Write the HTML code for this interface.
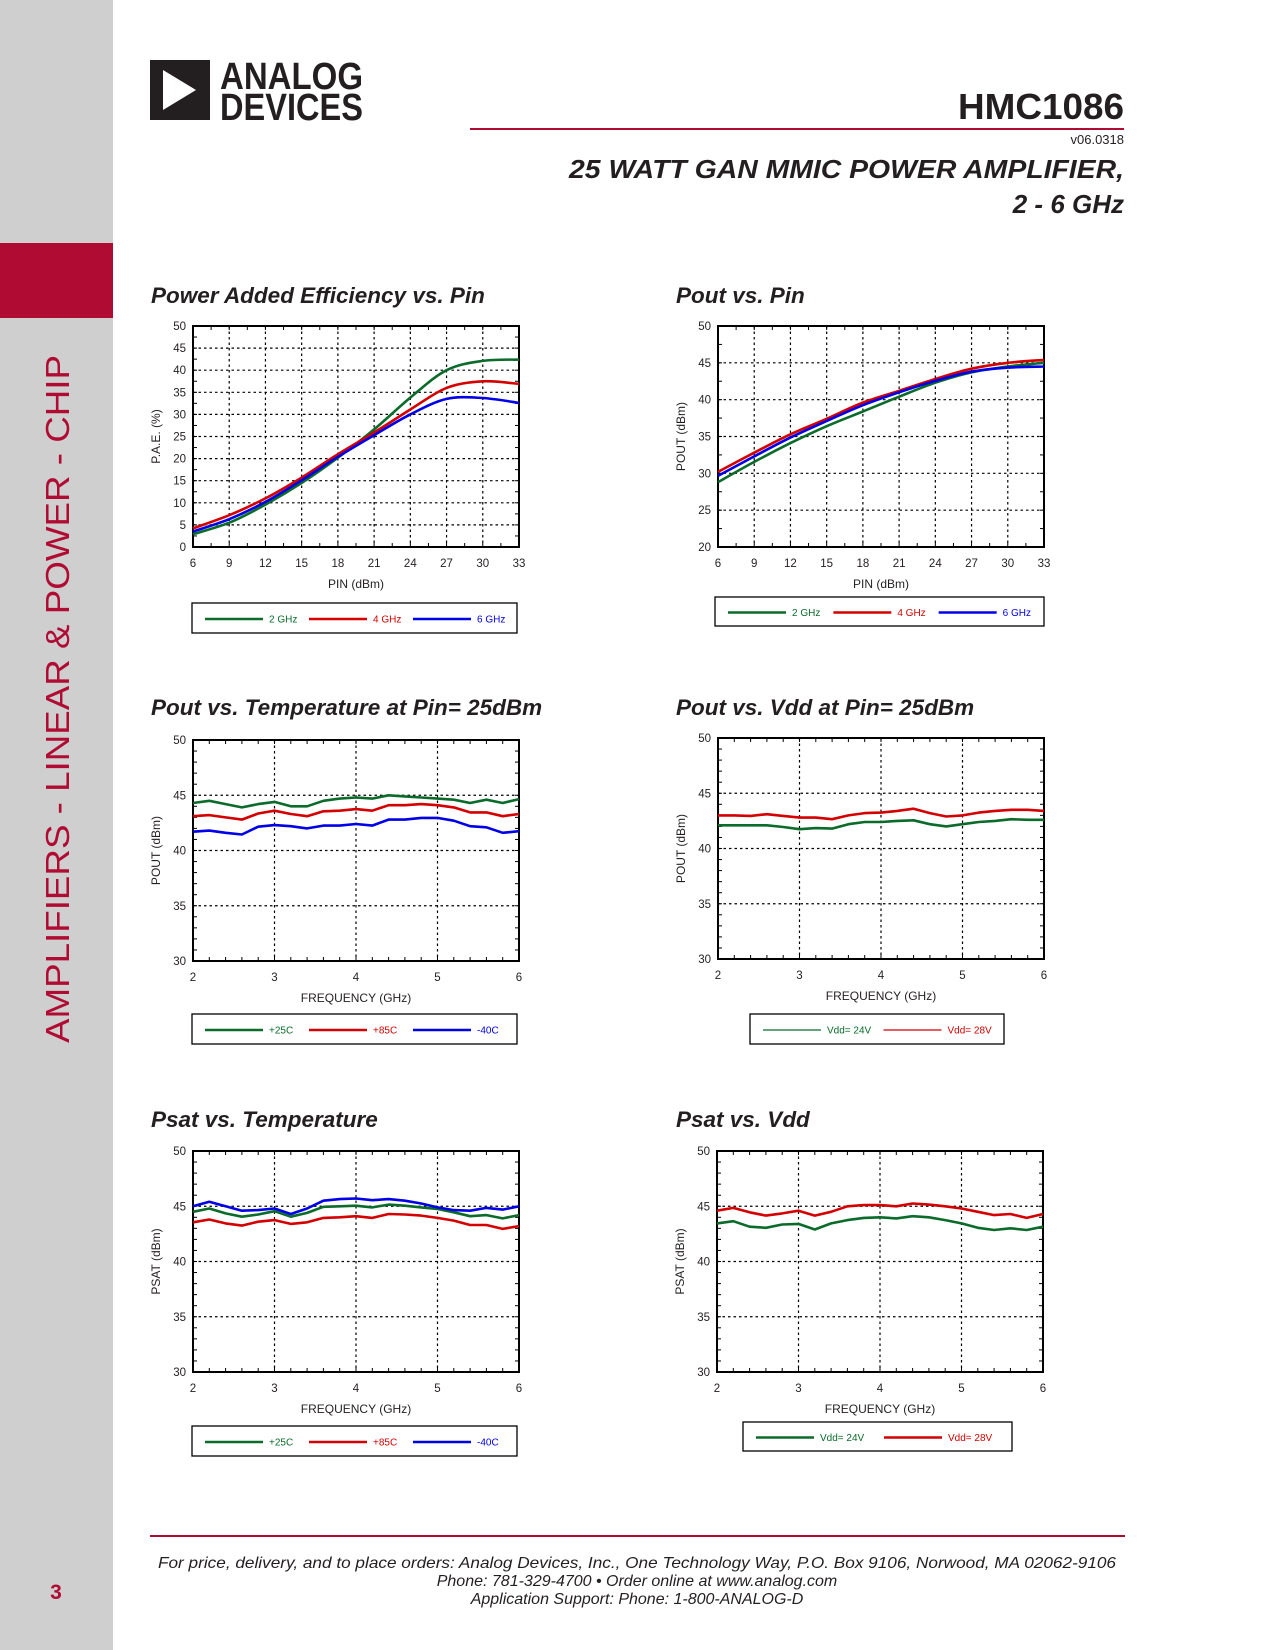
<!DOCTYPE html>
<html><head><meta charset="utf-8"><style>
html,body{margin:0;padding:0;background:#fff;}
body{width:1275px;height:1650px;position:relative;overflow:hidden;font-family:"Liberation Sans",sans-serif;}
</style></head><body>
<svg id="page" width="1275" height="1650" viewBox="0 0 1275 1650" xmlns="http://www.w3.org/2000/svg" style="position:absolute;left:0;top:0">
<rect x="0" y="0" width="113" height="1650" fill="#cfcfcf"/>
<rect x="0" y="243" width="113" height="75" fill="#b00c33"/>
<text transform="translate(69,1043) rotate(-90)" font-family="Liberation Sans, sans-serif" font-size="33" fill="#b00c33" textLength="688" lengthAdjust="spacingAndGlyphs">AMPLIFIERS - LINEAR &amp; POWER - CHIP</text>
<text x="56" y="1599" text-anchor="middle" font-family="Liberation Sans, sans-serif" font-size="21" font-weight="bold" fill="#b00c33">3</text>
<g>
<rect x="150" y="60" width="60" height="60" fill="#231f20"/>
<polygon points="163,70 163,110 196,90" fill="#fff"/>
<text x="220" y="89" font-family="Liberation Sans, sans-serif" font-weight="bold" font-size="38" fill="#231f20" textLength="143" lengthAdjust="spacingAndGlyphs">ANALOG</text>
<text x="220" y="120" font-family="Liberation Sans, sans-serif" font-weight="bold" font-size="38" fill="#231f20" textLength="143" lengthAdjust="spacingAndGlyphs">DEVICES</text>
</g>
<text x="1124" y="119" text-anchor="end" font-family="Liberation Sans, sans-serif" font-weight="bold" font-size="36" fill="#231f20" textLength="166" lengthAdjust="spacingAndGlyphs">HMC1086</text>
<rect x="470" y="128" width="654" height="2" fill="#b00c33"/>
<text x="1124" y="144" text-anchor="end" font-family="Liberation Sans, sans-serif" font-size="13" fill="#231f20">v06.0318</text>
<text x="1124" y="178" text-anchor="end" font-family="Liberation Sans, sans-serif" font-weight="bold" font-style="italic" font-size="26" fill="#231f20" textLength="555" lengthAdjust="spacingAndGlyphs">25 WATT GAN MMIC POWER AMPLIFIER,</text>
<text x="1124" y="213" text-anchor="end" font-family="Liberation Sans, sans-serif" font-weight="bold" font-style="italic" font-size="26" fill="#231f20">2 - 6 GHz</text>
<rect x="150" y="1535" width="975" height="2" fill="#b00c33"/>
<g font-family="Liberation Sans, sans-serif" font-style="italic" font-size="16" fill="#231f20" text-anchor="middle">
<text x="637" y="1568" textLength="958" lengthAdjust="spacingAndGlyphs">For price, delivery, and to place orders: Analog Devices, Inc., One Technology Way, P.O. Box 9106, Norwood, MA 02062-9106</text>
<text x="637" y="1586">Phone: 781-329-4700 • Order online at www.analog.com</text>
<text x="637" y="1604">Application Support: Phone: 1-800-ANALOG-D</text>
</g>
<g id="charts"></g>
</svg>
<script>
// ---- Chart data ----
const pinAxis = [6, 9, 12, 15, 18, 21, 24, 27, 30, 33];
const paeTicksY = [0, 5, 10, 15, 20, 25, 30, 35, 40, 45, 50];
const pae2GHz = [2.9, 5.5, 9.6, 14.5, 20.2, 26.6, 33.8, 40.0, 42.1, 42.4];
const pae4GHz = [4.2, 7.2, 11.0, 15.7, 21.0, 25.9, 31.1, 36.0, 37.5, 36.9];
const pae6GHz = [3.5, 6.3, 10.2, 15.1, 20.4, 25.3, 30.0, 33.5, 33.7, 32.6];
const poutTicksY = [20, 25, 30, 35, 40, 45, 50];
const poutPin2GHz = [28.8, 31.55, 34.1, 36.4, 38.4, 40.4, 42.3, 43.7, 44.5, 45.0];
const poutPin4GHz = [30.2, 32.8, 35.3, 37.4, 39.6, 41.2, 42.8, 44.2, 45.0, 45.4];
const poutPin6GHz = [29.65, 32.3, 34.85, 37.1, 39.25, 41.0, 42.55, 43.8, 44.35, 44.5];
const freqGHz = [2, 2.2, 2.4, 2.6, 2.8, 3, 3.2, 3.4, 3.6, 3.8, 4, 4.2, 4.4, 4.6, 4.8, 5, 5.2, 5.4, 5.6, 5.8, 6];
const freqTicks = [2, 3, 4, 5, 6];
const powTicksY = [30, 35, 40, 45, 50];
const poutT25 = [44.3, 44.5, 44.2, 43.9, 44.2, 44.4, 44.0, 44.0, 44.5, 44.7, 44.8, 44.7, 45.0, 44.9, 44.8, 44.7, 44.6, 44.3, 44.6, 44.3, 44.65];
const poutT85 = [43.1, 43.2, 43.0, 42.8, 43.35, 43.6, 43.3, 43.1, 43.55, 43.6, 43.75, 43.6, 44.1, 44.1, 44.2, 44.1, 43.9, 43.45, 43.45, 43.1, 43.3];
const poutTm40 = [41.7, 41.8, 41.6, 41.45, 42.15, 42.3, 42.2, 42.0, 42.25, 42.25, 42.4, 42.25, 42.8, 42.8, 42.95, 42.95, 42.7, 42.2, 42.1, 41.6, 41.75];
const poutV24 = [42.1, 42.1, 42.1, 42.1, 41.95, 41.75, 41.85, 41.8, 42.2, 42.4, 42.4, 42.5, 42.55, 42.2, 42.0, 42.2, 42.4, 42.5, 42.65, 42.6, 42.6];
const poutV28 = [43.0, 43.0, 42.95, 43.1, 42.95, 42.8, 42.8, 42.65, 43.0, 43.2, 43.25, 43.4, 43.6, 43.2, 42.9, 43.0, 43.25, 43.4, 43.5, 43.5, 43.4];
const psatT25 = [44.5, 44.8, 44.35, 44.05, 44.25, 44.55, 44.05, 44.4, 44.95, 45.0, 45.05, 44.9, 45.15, 45.05, 44.9, 44.75, 44.45, 44.1, 44.2, 43.9, 44.2];
const psatT85 = [43.55, 43.8, 43.45, 43.25, 43.6, 43.75, 43.4, 43.55, 43.95, 44.0, 44.1, 43.95, 44.3, 44.25, 44.15, 43.95, 43.7, 43.3, 43.3, 42.95, 43.2];
const psatTm40 = [45.0, 45.4, 45.0, 44.6, 44.65, 44.8, 44.3, 44.8, 45.5, 45.65, 45.7, 45.55, 45.65, 45.5, 45.25, 44.9, 44.65, 44.6, 44.85, 44.7, 45.0];
const psatV24 = [43.45, 43.65, 43.15, 43.05, 43.35, 43.4, 42.9, 43.45, 43.75, 43.95, 44.0, 43.9, 44.1, 44.0, 43.75, 43.45, 43.05, 42.85, 43.0, 42.85, 43.15];
const psatV28 = [44.6, 44.85, 44.45, 44.15, 44.35, 44.6, 44.15, 44.5, 45.0, 45.1, 45.1, 45.0, 45.25, 45.15, 45.0, 44.8, 44.5, 44.2, 44.3, 43.95, 44.3];

const GREEN = '#0b6b2a', RED = '#d40000', BLUE = '#0000e6';
const NS = 'http://www.w3.org/2000/svg';
const root = document.getElementById('charts');
function mk(tag, attrs, parent) {
  const e = document.createElementNS(NS, tag);
  for (const k in attrs) e.setAttribute(k, attrs[k]);
  (parent || root).appendChild(e);
  return e;
}
function smoothPath(pts) {
  let d = 'M' + pts[0][0].toFixed(1) + ',' + pts[0][1].toFixed(1);
  for (let i = 0; i < pts.length - 1; i++) {
    const p0 = pts[i - 1] || pts[i], p1 = pts[i], p2 = pts[i + 1], p3 = pts[i + 2] || p2;
    const c1 = [p1[0] + (p2[0] - p0[0]) / 6, p1[1] + (p2[1] - p0[1]) / 6];
    const c2 = [p2[0] - (p3[0] - p1[0]) / 6, p2[1] - (p3[1] - p1[1]) / 6];
    d += ' C' + c1.map(v => v.toFixed(1)).join(',') + ' ' + c2.map(v => v.toFixed(1)).join(',') + ' ' + p2[0].toFixed(1) + ',' + p2[1].toFixed(1);
  }
  return d;
}
function drawChart(cfg) {
  const g = mk('g', {});
  
  
  const {x0, x1, y0, y1} = cfg;
  const xMin = cfg.xTicks[0], xMax = cfg.xTicks[cfg.xTicks.length - 1];
  const yMin = cfg.yTicks[0], yMax = cfg.yTicks[cfg.yTicks.length - 1];
  const sx = v => x0 + (v - xMin) / (xMax - xMin) * (x1 - x0);
  const sy = v => y1 - (v - yMin) / (yMax - yMin) * (y1 - y0);
  const t = mk('text', {x: cfg.titleX, y: cfg.titleY, 'font-family': 'Liberation Sans, sans-serif', 'font-size': 22.5, 'font-weight': 'bold', 'font-style': 'italic', fill: '#231f20'}, g);
  t.textContent = cfg.title;
  
  
  const grid = mk('g', {stroke: '#000', 'stroke-width': 1.2, 'stroke-dasharray': '2.5,3'}, g);
  
  
  cfg.xTicks.slice(1, -1).forEach(v => mk('line', {x1: sx(v), x2: sx(v), y1: y0, y2: y1}, grid));
  cfg.yTicks.slice(1, -1).forEach(v => mk('line', {x1: x0, x2: x1, y1: sy(v), y2: sy(v)}, grid));
  const mt = mk('g', {stroke: '#000', 'stroke-width': 1}, g);
  
  
  for (let i = 1; i < cfg.xMinor; i++) { const X = x0 + i * (x1 - x0) / cfg.xMinor; mk('line', {x1: X, x2: X, y1: y1, y2: y1 - 4}, mt); mk('line', {x1: X, x2: X, y1: y0, y2: y0 + 4}, mt); }
  for (let i = 1; i < cfg.yMinor; i++) { const Y = y0 + i * (y1 - y0) / cfg.yMinor; mk('line', {x1: x0, x2: x0 + 4, y1: Y, y2: Y}, mt); mk('line', {x1: x1, x2: x1 - 4, y1: Y, y2: Y}, mt); }
  const fr = mk('rect', {x: x0, y: y0, width: x1 - x0, height: y1 - y0, fill: 'none', stroke: '#000', 'stroke-width': 2}, g);
  
  
  cfg.yTicks.forEach(v => {
    const e = mk('text', {x: x0 - 7, y: sy(v) + 4, 'text-anchor': 'end', 'font-family': 'Liberation Sans, sans-serif', 'font-size': 11.5, fill: '#231f20'}, g);
    e.textContent = v;
    
    
  });
  cfg.xTicks.forEach(v => {
    const e = mk('text', {x: sx(v), y: y1 + 20, 'text-anchor': 'middle', 'font-family': 'Liberation Sans, sans-serif', 'font-size': 11.5, fill: '#231f20'}, g);
    e.textContent = v;
    
    
  });
  const xt = mk('text', {x: (x0 + x1) / 2, y: y1 + 41, 'text-anchor': 'middle', 'font-family': 'Liberation Sans, sans-serif', 'font-size': 12, fill: '#231f20'}, g);
  xt.textContent = cfg.xTitle;
  
  
  const yt = mk('text', {transform: 'translate(' + (x0 - 33) + ',' + ((y0 + y1) / 2) + ') rotate(-90)', 'text-anchor': 'middle', 'font-family': 'Liberation Sans, sans-serif', 'font-size': 12, fill: '#231f20'}, g);
  yt.textContent = cfg.yTitle;
  
  
  cfg.series.forEach(s => {
    const pts = cfg.xs.map((xv, i) => [sx(xv), sy(s.values[i])]);
    const d = cfg.smooth ? smoothPath(pts) : 'M' + pts.map(p => p[0].toFixed(1) + ',' + p[1].toFixed(1)).join(' L');
    const p = mk('path', {d: d, fill: 'none', stroke: s.color, 'stroke-width': 2.6, 'stroke-linejoin': 'round'}, g);
    
    
  });
  const L = cfg.legend;
  const lg = mk('g', {}, g);
  
  
  mk('rect', {x: L.x, y: L.y, width: L.w, height: L.h, fill: '#fff', stroke: '#000', 'stroke-width': 1.3}, lg);
  const n = cfg.series.length, step = (L.w - 13) / n, ly = L.y + L.h / 2 + 1;
  cfg.series.forEach((s, i) => {
    const lx = L.x + 13 + i * step;
    const ent = mk('g', {}, lg);
    
    
    mk('line', {x1: lx, x2: lx + L.len, y1: ly, y2: ly, stroke: s.color, 'stroke-width': L.thin ? 1.2 : 2.6}, ent);
    const tx = mk('text', {x: lx + L.len + 6, y: ly + 3.5, 'font-family': 'Liberation Sans, sans-serif', 'font-size': 10, fill: s.color}, ent);
    tx.textContent = s.label;
  });
}

drawChart({name: 'pae-vs-pin-chart', title: 'Power Added Efficiency vs. Pin', titleX: 151, titleY: 303,
  x0: 193, x1: 519, y0: 326, y1: 547, xTicks: pinAxis, yTicks: paeTicksY, xMinor: 18, yMinor: 20,
  xs: pinAxis, smooth: true, xTitle: 'PIN (dBm)', yTitle: 'P.A.E. (%)',
  series: [{key: '2ghz', label: '2 GHz', color: GREEN, values: pae2GHz}, {key: '4ghz', label: '4 GHz', color: RED, values: pae4GHz}, {key: '6ghz', label: '6 GHz', color: BLUE, values: pae6GHz}],
  legend: {x: 192, y: 603, w: 325, h: 30, len: 58}});
drawChart({name: 'pout-vs-pin-chart', title: 'Pout vs. Pin', titleX: 676, titleY: 303,
  x0: 718, x1: 1044, y0: 326, y1: 547, xTicks: pinAxis, yTicks: poutTicksY, xMinor: 18, yMinor: 12,
  xs: pinAxis, smooth: true, xTitle: 'PIN (dBm)', yTitle: 'POUT (dBm)',
  series: [{key: '2ghz', label: '2 GHz', color: GREEN, values: poutPin2GHz}, {key: '4ghz', label: '4 GHz', color: RED, values: poutPin4GHz}, {key: '6ghz', label: '6 GHz', color: BLUE, values: poutPin6GHz}],
  legend: {x: 715, y: 597, w: 329, h: 29, len: 58}});
drawChart({name: 'pout-vs-temperature-chart', title: 'Pout vs. Temperature at Pin= 25dBm', titleX: 151, titleY: 715,
  x0: 193, x1: 519, y0: 740, y1: 961, xTicks: freqTicks, yTicks: powTicksY, xMinor: 20, yMinor: 20,
  xs: freqGHz, smooth: false, xTitle: 'FREQUENCY (GHz)', yTitle: 'POUT (dBm)',
  series: [{key: '25c', label: '+25C', color: GREEN, values: poutT25}, {key: '85c', label: '+85C', color: RED, values: poutT85}, {key: 'm40c', label: '-40C', color: BLUE, values: poutTm40}],
  legend: {x: 192, y: 1014, w: 325, h: 30, len: 58}});
drawChart({name: 'pout-vs-vdd-chart', title: 'Pout vs. Vdd at Pin= 25dBm', titleX: 676, titleY: 715,
  x0: 718, x1: 1044, y0: 738, y1: 959, xTicks: freqTicks, yTicks: powTicksY, xMinor: 20, yMinor: 20,
  xs: freqGHz, smooth: false, xTitle: 'FREQUENCY (GHz)', yTitle: 'POUT (dBm)',
  series: [{key: 'vdd24', label: 'Vdd= 24V', color: GREEN, values: poutV24}, {key: 'vdd28', label: 'Vdd= 28V', color: RED, values: poutV28}],
  legend: {x: 750, y: 1014, w: 254, h: 30, len: 58, thin: true}});
drawChart({name: 'psat-vs-temperature-chart', title: 'Psat vs. Temperature', titleX: 151, titleY: 1127,
  x0: 193, x1: 519, y0: 1151, y1: 1372, xTicks: freqTicks, yTicks: powTicksY, xMinor: 20, yMinor: 20,
  xs: freqGHz, smooth: false, xTitle: 'FREQUENCY (GHz)', yTitle: 'PSAT (dBm)',
  series: [{key: '25c', label: '+25C', color: GREEN, values: psatT25}, {key: '85c', label: '+85C', color: RED, values: psatT85}, {key: 'm40c', label: '-40C', color: BLUE, values: psatTm40}],
  legend: {x: 192, y: 1426, w: 325, h: 30, len: 58}});
drawChart({name: 'psat-vs-vdd-chart', title: 'Psat vs. Vdd', titleX: 676, titleY: 1127,
  x0: 717, x1: 1043, y0: 1151, y1: 1372, xTicks: freqTicks, yTicks: powTicksY, xMinor: 20, yMinor: 20,
  xs: freqGHz, smooth: false, xTitle: 'FREQUENCY (GHz)', yTitle: 'PSAT (dBm)',
  series: [{key: 'vdd24', label: 'Vdd= 24V', color: GREEN, values: psatV24}, {key: 'vdd28', label: 'Vdd= 28V', color: RED, values: psatV28}],
  legend: {x: 743, y: 1422, w: 269, h: 29, len: 58}});
</script>
</body></html>
